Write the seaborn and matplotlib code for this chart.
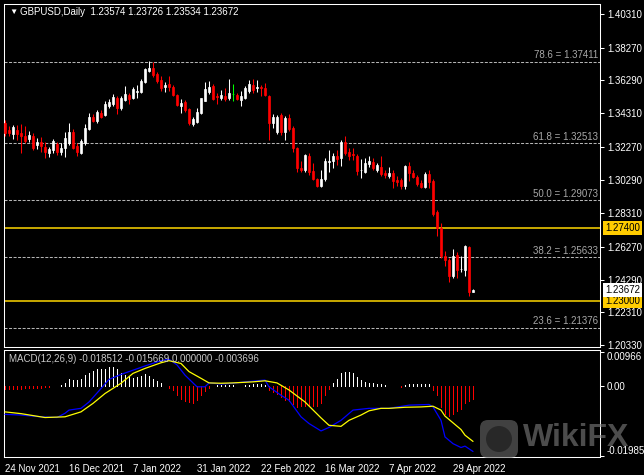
"""
GBPUSD daily candles with fib levels and MACD panel (MT4 style)
"""

import numpy as np
import pandas as pd
import matplotlib
matplotlib.use("Agg")
import matplotlib.pyplot as plt
import matplotlib.transforms as mtransforms
from matplotlib.patches import FancyBboxPatch, Circle
import seaborn as sns

# ── Price data ────────────────────────────────────────────────
opens = [1.3375, 1.3331, 1.3307, 1.3331, 1.3311, 1.3295, 1.3275, 1.3295, 1.3241, 1.3261,
         1.3231, 1.3193, 1.3211, 1.3247, 1.3201, 1.3221, 1.3251, 1.3321, 1.3237, 1.3195,
         1.3251, 1.3337, 1.3411, 1.3386, 1.3436, 1.3422, 1.3478, 1.3486, 1.3526, 1.3462,
         1.3512, 1.3542, 1.3522, 1.3562, 1.3562, 1.3622, 1.3688, 1.3703, 1.3669, 1.3632,
         1.3588, 1.3608, 1.3592, 1.3542, 1.3478, 1.3502, 1.3456, 1.3367, 1.3381, 1.3432,
         1.3508, 1.3560, 1.3598, 1.3536, 1.3522, 1.3536, 1.3522, 1.3548, 1.3542, 1.3512,
         1.3526, 1.3566, 1.3602, 1.3582, 1.3592, 1.3586, 1.3536, 1.3371, 1.3316, 1.3420,
         1.3316, 1.3401, 1.3344, 1.3220, 1.3104, 1.3091, 1.3177, 1.3085, 1.3035, 1.2996,
         1.3035, 1.3135, 1.3141, 1.3171, 1.3159, 1.3261, 1.3197, 1.3184, 1.3175, 1.3090,
         1.3080, 1.3127, 1.3135, 1.3087, 1.3107, 1.3071, 1.3056, 1.3071, 1.3030, 1.3030,
         1.2994, 1.3115, 1.3074, 1.3050, 1.3014, 1.2990, 1.3067, 1.3026, 1.2834, 1.2740,
         1.2573, 1.2549, 1.2452, 1.2579, 1.2491, 1.2489, 1.2625, 1.23574]
highs = [1.3392, 1.3355, 1.3361, 1.3361, 1.3367, 1.3355, 1.3325, 1.3313, 1.3283, 1.3289,
         1.3259, 1.3229, 1.3277, 1.3259, 1.3253, 1.3319, 1.3374, 1.3337, 1.3253, 1.3277,
         1.3367, 1.3434, 1.3428, 1.3452, 1.3452, 1.3506, 1.3518, 1.3548, 1.3536, 1.3536,
         1.3596, 1.3554, 1.3590, 1.3602, 1.3638, 1.3705, 1.3747, 1.3743, 1.3681, 1.3657,
         1.3620, 1.3657, 1.3602, 1.3548, 1.3518, 1.3512, 1.3464, 1.3410, 1.3464, 1.3524,
         1.3620, 1.3626, 1.3608, 1.3554, 1.3572, 1.3584, 1.3638, 1.3608, 1.3554, 1.3566,
         1.3596, 1.3632, 1.3638, 1.3632, 1.3602, 1.3614, 1.3542, 1.3428, 1.3422, 1.3434,
         1.3416, 1.3428, 1.3355, 1.3229, 1.3145, 1.3187, 1.3193, 1.3133, 1.3042, 1.3090,
         1.3163, 1.3211, 1.3193, 1.3211, 1.3271, 1.3295, 1.3223, 1.3223, 1.3187, 1.3157,
         1.3163, 1.3175, 1.3163, 1.3133, 1.3175, 1.3090, 1.3109, 1.3090, 1.3054, 1.3042,
         1.3121, 1.3139, 1.3090, 1.3060, 1.3030, 1.3079, 1.3090, 1.3036, 1.2850, 1.2770,
         1.2600, 1.2561, 1.2613, 1.2597, 1.2569, 1.2639, 1.2633, 1.23726]
lows = [1.3295, 1.3295, 1.3277, 1.3271, 1.3193, 1.3253, 1.3259, 1.3211, 1.3217, 1.3199,
        1.3163, 1.3169, 1.3193, 1.3181, 1.3181, 1.3169, 1.3241, 1.3217, 1.3175, 1.3187,
        1.3241, 1.3331, 1.3380, 1.3374, 1.3404, 1.3416, 1.3464, 1.3476, 1.3428, 1.3452,
        1.3506, 1.3488, 1.3518, 1.3524, 1.3554, 1.3614, 1.3681, 1.3651, 1.3614, 1.3568,
        1.3560, 1.3568, 1.3536, 1.3476, 1.3434, 1.3440, 1.3361, 1.3355, 1.3374, 1.3428,
        1.3506, 1.3548, 1.3512, 1.3488, 1.3512, 1.3506, 1.3512, 1.3506, 1.3512, 1.3476,
        1.3518, 1.3554, 1.3554, 1.3560, 1.3536, 1.3536, 1.3271, 1.3343, 1.3307, 1.3301,
        1.3271, 1.3325, 1.3199, 1.3079, 1.3079, 1.3079, 1.3061, 1.3030, 1.2988, 1.2988,
        1.3024, 1.3079, 1.3103, 1.3121, 1.3115, 1.3181, 1.3151, 1.3151, 1.3061, 1.3042,
        1.3073, 1.3109, 1.3090, 1.3079, 1.3055, 1.3042, 1.3042, 1.2982, 1.2994, 1.2976,
        1.2976, 1.3024, 1.3042, 1.2994, 1.2982, 1.2982, 1.2982, 1.2814, 1.2693, 1.2561,
        1.2513, 1.2412, 1.2440, 1.2440, 1.2472, 1.2448, 1.2328, 1.23534]
closes = [1.3312, 1.3311, 1.3351, 1.3307, 1.3297, 1.3267, 1.3301, 1.3225, 1.3261, 1.3237,
          1.3201, 1.3217, 1.3265, 1.3201, 1.3225, 1.3281, 1.3321, 1.3225, 1.3201, 1.3267,
          1.3345, 1.3407, 1.3387, 1.3438, 1.3411, 1.3486, 1.3502, 1.3532, 1.3462, 1.3522,
          1.3548, 1.3518, 1.3578, 1.3566, 1.3626, 1.3697, 1.3703, 1.3663, 1.3628, 1.3582,
          1.3604, 1.3588, 1.3542, 1.3482, 1.3496, 1.3452, 1.3372, 1.3398, 1.3442, 1.3521,
          1.3575, 1.3592, 1.3518, 1.3527, 1.3542, 1.3516, 1.3556, 1.3548, 1.3516, 1.3538,
          1.3586, 1.3606, 1.3572, 1.3592, 1.3582, 1.3542, 1.3372, 1.3408, 1.3408, 1.3316,
          1.3402, 1.3337, 1.3221, 1.3101, 1.3091, 1.3181, 1.3077, 1.3035, 1.2996, 1.3035,
          1.3145, 1.3145, 1.3175, 1.3155, 1.3261, 1.3191, 1.3175, 1.3178, 1.3085, 1.3092,
          1.3131, 1.3145, 1.3104, 1.3117, 1.3067, 1.3061, 1.3074, 1.3026, 1.3020, 1.2994,
          1.3115, 1.3074, 1.3050, 1.3006, 1.2990, 1.3067, 1.3020, 1.2826, 1.2740, 1.2569,
          1.2545, 1.2452, 1.2569, 1.2488, 1.2494, 1.2633, 1.2352, 1.23672]

date_ticks = [0, 16, 32, 48, 64, 80, 96, 112]
date_labels = ["24 Nov 2021", "16 Dec 2021", "7 Jan 2022", "31 Jan 2022",
               "22 Feb 2022", "16 Mar 2022", "7 Apr 2022", "29 Apr 2022"]

price_ticks = [1.40310, 1.38270, 1.36290, 1.34310, 1.32270, 1.30290,
               1.28310, 1.26270, 1.24290, 1.22310, 1.20330]

fib_pct = ["78.6", "61.8", "50.0", "38.2", "23.6"]
fib_val = [1.37411, 1.32513, 1.29073, 1.25633, 1.21376]
levels = [1.27400, 1.23000]

# ── MACD data ──────────────────────────────────────────────────
macd_bar = [0, 4, 9, 13, 15, 16, 19, 21, 24, 26, 29, 32, 35, 39, 41, 43, 45, 48, 50, 51,
            54, 57, 60, 65, 66, 69, 71, 74, 76, 79, 81, 84, 87, 91, 96, 101, 106, 107, 109,
            110, 112, 114, 115, 117]
macd_val = [-0.0080, -0.0082, -0.0087, -0.0089, -0.0077, -0.0068, -0.0063, -0.0045, -0.0007,
            0.0019, 0.0033, 0.0045, 0.0057, 0.0072, 0.0076, 0.0060, 0.0031, -0.0002, -0.0002,
            0.0009, 0.0006, 0.0008, 0.0012, 0.0017, -0.0002, -0.0026, -0.0040, -0.0087,
            -0.0106, -0.0127, -0.0117, -0.0097, -0.0068, -0.0063, -0.0063, -0.0054, -0.0052,
            -0.0059, -0.0097, -0.0144, -0.0163, -0.0174, -0.0170, -0.018512]
signal_bar = [0, 4, 10, 15, 19, 22, 25, 29, 32, 35, 39, 41, 44, 46, 49, 51, 54, 57, 62, 65,
              68, 71, 75, 79, 81, 84, 86, 89, 91, 94, 96, 100, 104, 107, 109, 110, 112, 114,
              115, 117]
signal_val = [-0.0073, -0.0078, -0.0089, -0.0087, -0.0073, -0.0049, -0.0021, 0.0008, 0.0036,
              0.0050, 0.0066, 0.0072, 0.0064, 0.0041, 0.0022, 0.0009, 0.0008, 0.0009, 0.0012,
              0.0015, 0.0009, -0.0011, -0.0045, -0.0090, -0.0111, -0.0114, -0.0097, -0.0082,
              -0.0070, -0.0063, -0.0063, -0.0060, -0.0059, -0.0057, -0.0068, -0.0085, -0.0104,
              -0.0123, -0.0139, -0.015669]
hist_val = [-0.0008, -0.0008, -0.0008, -0.0007, -0.0007, -0.0006, -0.0006, -0.0005, -0.0005,
            -0.0004, -0.0003, -0.0002, 0.0001, 0.0001, 0.0003, 0.0008, 0.0020, 0.0017, 0.0017,
            0.0021, 0.0030, 0.0038, 0.0043, 0.0047, 0.0049, 0.0049, 0.0055, 0.0055, 0.0047,
            0.0038, 0.0030, 0.0028, 0.0024, 0.0027, 0.0028, 0.0033, 0.0028, 0.0021, 0.0014,
            0.0008, 0.0, -0.0004, -0.0012, -0.0026, -0.0036, -0.0043, -0.0045, -0.0047,
            -0.0040, -0.0026, -0.0014, -0.0005, 0.0001, 0.0003, 0.0003, 0.0003, 0.0003,
            0.0002, 0.0001, 0.0001, 0.0002, 0.0004, 0.0005, 0.0005, 0.0005, 0.0002, -0.0010,
            -0.0018, -0.0023, -0.0030, -0.0038, -0.0043, -0.0052, -0.0058, -0.0057, -0.0057,
            -0.0055, -0.0057, -0.0057, -0.0049, -0.0025, -0.0007, 0.0008, 0.0019, 0.0036,
            0.0039, 0.0039, 0.0036, 0.0025, 0.0017, 0.0012, 0.0010, 0.0008, 0.0006, 0.0005,
            0.0002, 0.0001, 0.0, -0.0001, -0.0003, 0.0002, 0.0005, 0.0007, 0.0006, 0.0005,
            0.0005, 0.0007, -0.0011, -0.0025, -0.0058, -0.0079, -0.0085, -0.0079, -0.0070,
            -0.0066, -0.0047, -0.0043, -0.003696]
macd_ticks = [0.00966, 0.0, -0.019854]
macd_tick_labels = ["0.00966", "0.00", "-0.019854"]

# ── Style ──────────────────────────────────────────────────────
sns.set_theme(style="dark", rc={"axes.facecolor": "black", "figure.facecolor": "black",
                                "axes.edgecolor": "white", "axes.grid": False,
                                "xtick.color": "white", "ytick.color": "white"})
plt.rcParams["font.family"] = ["Liberation Sans", "DejaVu Sans"]

W, H = 644, 475
fig = plt.figure(figsize=(W / 100, H / 100), dpi=100, facecolor="black")
ax = fig.add_axes([4 / W, 1 - 347 / H, 596 / W, 343 / H])
ax2 = fig.add_axes([4 / W, 1 - 457 / H, 596 / W, 107 / H], sharex=ax)

# ── Candles ────────────────────────────────────────────────────
df = pd.DataFrame({"open": opens, "high": highs, "low": lows, "close": closes})
df["bar"] = np.arange(len(df))
cols = np.where(df.close > df.open, "white",
                np.where(df.close < df.open, "#ff0000", "#00ff00"))
ax.vlines(df.bar, df.low, df.high, colors=cols, lw=0.75, zorder=3)
ax.bar(df.bar, (df.close - df.open).abs(), bottom=df[["open", "close"]].min(axis=1),
       width=0.72, color=cols, edgecolor=cols, linewidth=0.5, zorder=4)

# fib levels
lab_tr = mtransforms.offset_copy(mtransforms.blended_transform_factory(ax.transAxes, ax.transData),
                                 fig=fig, x=-2, y=1.5, units="dots")
for p, v in zip(fib_pct, fib_val):
    ax.axhline(v, color="#b4b4b4", lw=0.75, ls=(0, (2.9, 1.45)), zorder=1)
    ax.text(1.0, v, f"{p} = {v:.5f}", transform=lab_tr, ha="right", va="bottom",
            color="#a8a8a8", fontsize=7, zorder=2)

for v in levels:
    ax.axhline(v, color="#ffd700", lw=1.1, zorder=2)

ax.set_xlim(-0.25, 148.75)
ax.set_ylim(1.2023, 1.4090)
ax.yaxis.tick_right()
ax.set_yticks(price_ticks)
ax.set_yticklabels([f"{t:.5f}" for t in price_ticks])
ax.tick_params(axis="y", length=3, width=0.75, pad=2, labelsize=7, labelcolor="white", direction="out")
ax.tick_params(axis="x", bottom=False, labelbottom=False)

# right-side price tags
tag_tr = mtransforms.offset_copy(mtransforms.blended_transform_factory(ax.transAxes, ax.transData),
                                 fig=fig, x=5, y=0, units="dots")
for v in levels:
    ax.text(1.0, v, f"{v:.5f}", transform=tag_tr, ha="left", va="center", fontsize=7,
            color="black", clip_on=False,
            bbox=dict(boxstyle="square,pad=0.2", fc="#ffcc00", ec="none"))
ax.text(1.0, closes[-1], f"{closes[-1]:.5f}", transform=tag_tr, ha="left", va="center",
        fontsize=7, color="black", clip_on=False,
        bbox=dict(boxstyle="square,pad=0.2", fc="white", ec="none"))

fig.text(9 / W, 1 - 12 / H, "\u25bc", color="white", fontsize=6, va="center", ha="left")
fig.text(20 / W, 1 - 12 / H,
         f"GBPUSD,Daily  {opens[-1]:.5f} {highs[-1]:.5f} {lows[-1]:.5f} {closes[-1]:.5f}",
         color="white", fontsize=7, va="center", ha="left")

# ── MACD ───────────────────────────────────────────────────────
hist = np.array(hist_val)
bars = np.arange(len(hist))
ax2.vlines(bars, 0, hist, colors=np.where(hist > 0, "white", "#ff0000"), lw=0.72,
           antialiased=False, zorder=2)
sns.lineplot(x=macd_bar, y=macd_val, ax=ax2, color="#0000ff", lw=0.9, zorder=3)
sns.lineplot(x=signal_bar, y=signal_val, ax=ax2, color="#ffff00", lw=0.9, zorder=3)
ax2.set_ylim(-0.02008, 0.01022)
ax2.yaxis.tick_right()
ax2.set_yticks(macd_ticks)
ax2.set_yticklabels(macd_tick_labels)
ax2.tick_params(axis="y", length=3, width=0.75, pad=2, labelsize=7, labelcolor="white", direction="out")
ylabs = ax2.get_yticklabels()
ylabs[0].set_va("top")
ylabs[-1].set_va("bottom")
ax2.set_xticks(date_ticks)
ax2.set_xticklabels(date_labels, ha="left")
ax2.tick_params(axis="x", length=3, width=0.75, pad=2, labelsize=7, labelcolor="white", direction="out")
ax2.set_xlabel("")
ax2.set_ylabel("")
ax2.text(0.008, 0.92, f"MACD(12,26,9) {macd_val[-1]:.6f} {signal_val[-1]:.6f} 0.000000 {hist_val[-1]:.6f}",
         transform=ax2.transAxes, color="#c8c8c8", fontsize=7, va="center", ha="left", zorder=5)

for a in (ax, ax2):
    for s in a.spines.values():
        s.set_color("white")
        s.set_linewidth(0.75)

# ── Watermark ─────────────────────────────────────────────────
ident = mtransforms.IdentityTransform()
fig.add_artist(FancyBboxPatch((480, H - 458), 38, 38, boxstyle="round,pad=0,rounding_size=8",
                              transform=ident, fc="#6e6e6e", ec="none", alpha=0.6, zorder=10))
fig.add_artist(Circle((499, H - 439), 13, transform=ident, fc="#1e1e1e", ec="none",
                      alpha=0.7, zorder=11))
fig.text(523 / W, 1 - 438 / H, "WikiFX", fontsize=23, fontweight="bold", color="#808080",
         alpha=0.6, va="center", ha="left", zorder=12)

fig.savefig("out.png", dpi=100, facecolor="black")
